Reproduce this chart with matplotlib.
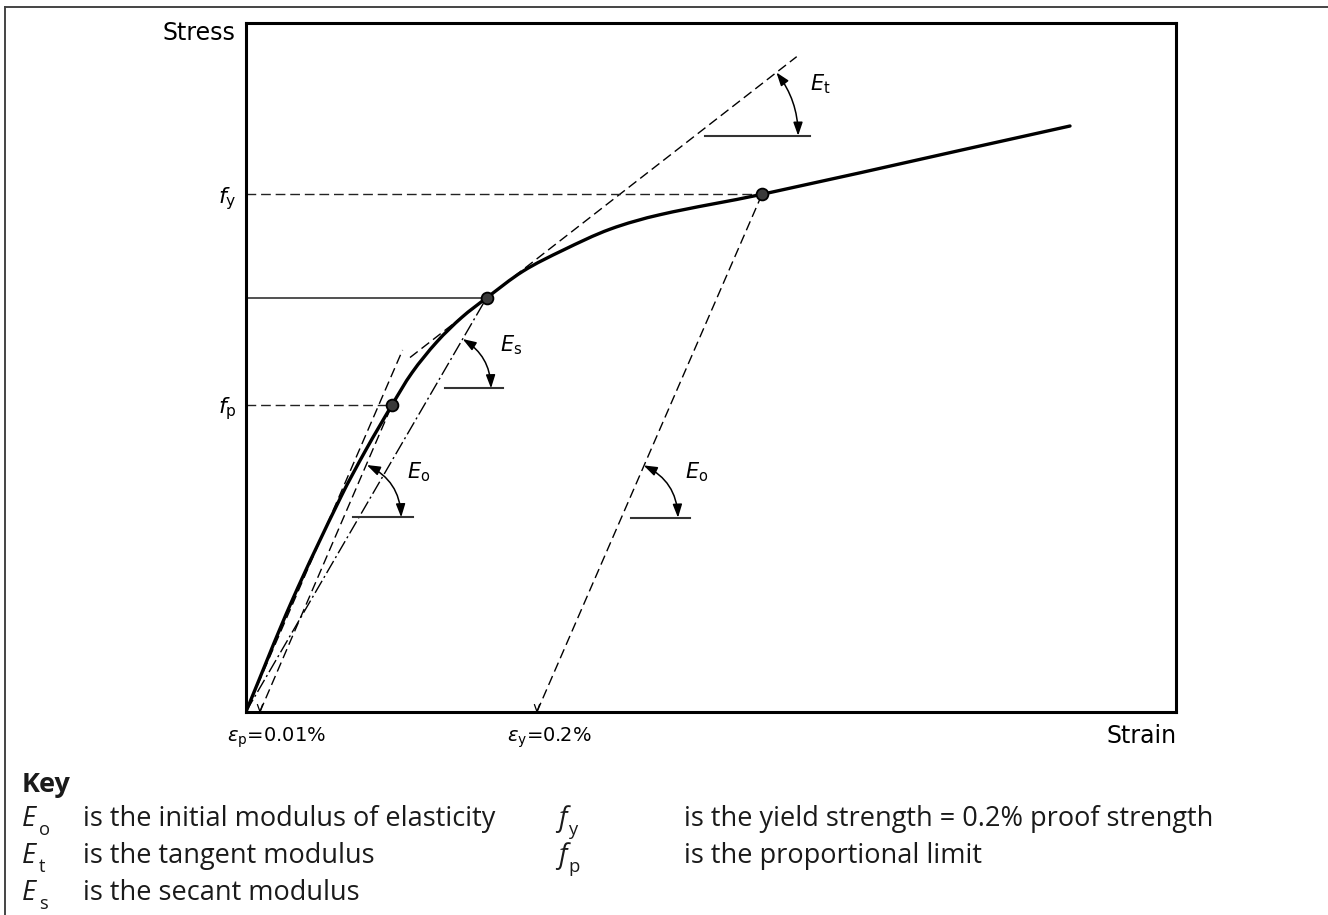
import matplotlib
matplotlib.use("Agg")
import matplotlib.pyplot as plt
from matplotlib.patches import FancyArrowPatch, PathPatch
from matplotlib.path import Path
from matplotlib.lines import Line2D
import numpy as np

plt.rcParams['mathtext.fontset'] = 'dejavusans'

# ---------------- data (arbitrary strain / stress units) ----------------
curve_strain = [0, 46, 95, 120, 146, 166, 191, 216, 240.5, 277, 317, 364, 414, 516, 714, 824]
curve_stress = [0, 111, 215, 262, 306.7, 339, 370, 394.5, 413.7, 440.5, 461.5, 482.5, 497, 517.4, 561.3, 585.7]

fp_point = (146, 306.7)       # proportional limit
secant_point = (240.5, 413.7) # point for secant / tangent modulus
fy_point = (516, 517.4)       # 0.2% proof strength
eps_p = 14                    # 0.01 % offset
eps_y = 291                   # 0.2 % offset
E0_slope = 2.31
Et_slope = 0.778
E0_top_stress = 361.7
Et_range = (164, 550.7)

x_labels = [r'$\varepsilon_{\rm p}$=0.01%', r'$\varepsilon_{\rm y}$=0.2%']
y_labels = [r'$f_{\rm y}$', r'$f_{\rm p}$']

key_left = [("E", "o", "is the initial modulus of elasticity"),
            ("E", "t", "is the tangent modulus"),
            ("E", "s", "is the secant modulus")]
key_right = [("f", "y", "is the yield strength = 0.2% proof strength"),
             ("f", "p", "is the proportional limit")]

# ---------------- figure ----------------
W, H = 1328, 915
fig = plt.figure(figsize=(W / 100, H / 100), dpi=100)
ox, oy = 246, 711.7
ax = fig.add_axes([ox / W, (H - oy) / H, 930 / W, 689 / H])
ax.set_xlim(0, 930)
ax.set_ylim(0, 689)
ax.set_xticks([]); ax.set_yticks([])
for s in ax.spines.values():
    s.set_linewidth(2.2)
    s.set_color('black')

dash = (0, (7, 3.5))
dashdot = (0, (10, 2.5, 1.5, 2.5))
thin = 1.0


def smooth_path(xs, ys):
    """Catmull-Rom style curve through the given points as cubic Bezier segments."""
    P = np.column_stack([xs, ys]).astype(float)
    verts = [P[0]]
    codes = [Path.MOVETO]
    n = len(P)
    for i in range(n - 1):
        p0 = P[i - 1] if i > 0 else P[i]
        p1, p2 = P[i], P[i + 1]
        p3 = P[i + 2] if i + 2 < n else P[i + 1]
        d1 = np.linalg.norm(p2 - p0) or 1
        d2 = np.linalg.norm(p3 - p1) or 1
        seg = np.linalg.norm(p2 - p1)
        c1 = p1 + (p2 - p0) / d1 * seg / 3.0
        c2 = p2 - (p3 - p1) / d2 * seg / 3.0
        verts += [c1, c2, p2]
        codes += [Path.CURVE4] * 3
    return Path(verts, codes)


# main curve
ax.add_patch(PathPatch(smooth_path(curve_strain, curve_stress), fill=False,
                       edgecolor='black', lw=2.4, joinstyle='round', capstyle='round', zorder=5))

# initial modulus tangent from origin
ax.plot([0, E0_top_stress / E0_slope], [0, E0_top_stress], color='black', lw=thin, ls=dash)
# offset lines
ax.plot([eps_p, fp_point[0]], [0, fp_point[1]], color='black', lw=thin, ls=dash)
ax.plot([eps_y, fy_point[0]], [0, fy_point[1]], color='black', lw=thin, ls=dash)
# secant line
ax.plot([0, secant_point[0]], [0, secant_point[1]], color='black', lw=thin, ls=dashdot)
# tangent line
tx = np.array(Et_range)
ax.plot(tx, secant_point[1] + Et_slope * (tx - secant_point[0]), color='black', lw=thin, ls=dash)

# horizontal lines to stress axis
ax.plot([0, fy_point[0]], [fy_point[1]] * 2, color='#222', lw=thin, ls=dash)
ax.plot([0, fp_point[0]], [fp_point[1]] * 2, color='#222', lw=thin, ls=dash)
ax.plot([0, secant_point[0]], [secant_point[1]] * 2, color='#222', lw=1.1)

# small V marks at offset strains
for e in (eps_p, eps_y):
    ax.plot([e - 2.5, e, e + 2.5], [7, 0, 7], color='black', lw=0.9, clip_on=False)

# points
for p in (fp_point, secant_point, fy_point):
    ax.plot(*p, 'o', ms=8.5, mfc='#3a3a3a', mec='black', mew=1.3, zorder=6)


def angle_marker(cx, cy, slope, r, x0, x1, label, lx, ly):
    ax.plot([x0, x1], [cy, cy], color='#333', lw=1.5)
    th = np.arctan(slope)
    ps = (cx + r * np.cos(th), cy + r * np.sin(th))
    pe = (cx + r, cy)
    rad = -np.tan(th / 4)
    arr = FancyArrowPatch(ps, pe, connectionstyle=f'arc3,rad={rad}',
                          arrowstyle='<|-|>,head_length=0.8,head_width=0.28',
                          mutation_scale=10, lw=1.1, color='black',
                          shrinkA=0, shrinkB=0)
    ax.add_patch(arr)
    ax.text(lx, ly, label, fontsize=15, ha='left', va='center')


# E_t
cy = 576
cx = secant_point[0] + (cy - secant_point[1]) / Et_slope
angle_marker(cx, cy, Et_slope, 103, cx + 10, cx + 115, r'$E_{\rm t}$', 564, 628)
# E_s
sec_slope = secant_point[1] / secant_point[0]
cy = 323.4
cx = cy / sec_slope
angle_marker(cx, cy, sec_slope, 57, cx + 11, cx + 69, r'$E_{\rm s}$', 254, 367)
# E_o left
cy = 194.4
cx = eps_p + cy / E0_slope
angle_marker(cx, cy, E0_slope, 57, cx + 9, cx + 69, r'$E_{\rm o}$', 161, 240)
# E_o right
cy = 194
cx = eps_y + cy / E0_slope
angle_marker(cx, cy, E0_slope, 57, cx + 10, cx + 69, r'$E_{\rm o}$', 439, 240)

# axis texts
ax.text(-11, 678.7, 'Stress', fontsize=17, ha='right', va='center', clip_on=False)
ax.text(931, -24.3, 'Strain', fontsize=17, ha='right', va='center', clip_on=False)
ax.text(-9, fy_point[1] - 4, y_labels[0], fontsize=16, ha='right', va='center')
ax.text(-9, fp_point[1] - 4, y_labels[1], fontsize=16, ha='right', va='center')
ax.text(-19.3, -26, x_labels[0], fontsize=14, ha='left', va='center')
ax.text(260.7, -26, x_labels[1], fontsize=14, ha='left', va='center')

# outer frame (top and left)
fig.add_artist(Line2D([5 / W, 1], [1 - 7 / H] * 2, transform=fig.transFigure, color='#444', lw=1.4))
fig.add_artist(Line2D([5 / W] * 2, [0, 1 - 7 / H], transform=fig.transFigure, color='#444', lw=1.4))

# key
kfont = 'Open Sans'
kcol = '#1a1a1a'
ks = 19.5
fig.text(22 / W, 1 - 785 / H, 'Key', fontsize=ks, fontweight='bold', family=kfont,
         color=kcol, va='center', ha='left')


def key_row(xs, xd, y, sym, sub, desc, subdx):
    fig.text(xs / W, 1 - y / H, sym, fontsize=ks, style='italic', family=kfont,
             color=kcol, va='center', ha='left')
    fig.text((xs + subdx) / W, 1 - (y + 11) / H, sub, fontsize=ks * 0.68, family=kfont,
             color=kcol, va='center', ha='left')
    fig.text(xd / W, 1 - y / H, desc, fontsize=ks, family=kfont,
             color=kcol, va='center', ha='left')


for i, (s, sub, d) in enumerate(key_left):
    key_row(22, 83, 819 + 36.8 * i, s, sub, d, 17)
for i, (s, sub, d) in enumerate(key_right):
    key_row(558, 684, 819 + 36.8 * i, s, sub, d, 10)

fig.savefig('out.png', dpi=100)
